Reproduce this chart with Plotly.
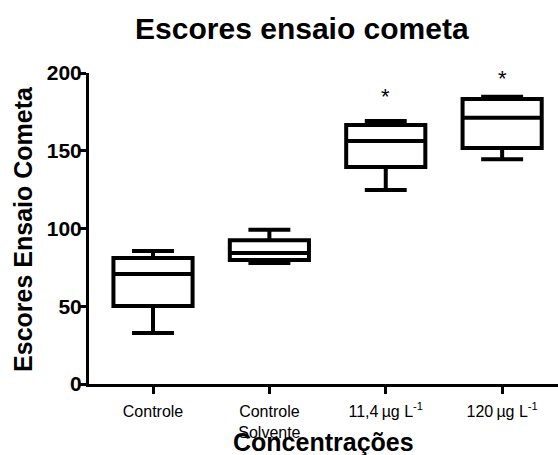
import plotly.graph_objects as go

categories = ["Controle", "Controle<br>Solvente", "11,4\u2009µg L<sup>-1</sup>", "120\u2009µg L<sup>-1</sup>"]
lower_whisker = [32.8, 77.8, 124.8, 144.6]
q1_values = [50.2, 79.7, 139.5, 151.7]
median_values = [70.7, 84.3, 156.3, 171.2]
q3_values = [81.0, 92.4, 166.6, 183.2]
upper_whisker = [85.5, 99.2, 169.2, 184.7]
significance_y = [None, None, 187.5, 199.0]
y_tick_values = [0, 50, 100, 150, 200]

FONT = "Liberation Sans, Arial, sans-serif"

fig = go.Figure()
fig.add_trace(go.Box(
    x=categories,
    q1=q1_values,
    median=median_values,
    q3=q3_values,
    lowerfence=lower_whisker,
    upperfence=upper_whisker,
    width=0.68,
    whiskerwidth=0.53,
    fillcolor="white",
    line=dict(color="black", width=4),
    boxpoints=False,
    showlegend=False,
    hoverinfo="skip",
))

for cat, sy in zip(categories, significance_y):
    if sy is not None:
        fig.add_annotation(x=cat, y=sy, xref="x", yref="y", text="*", showarrow=False,
                           font=dict(family=FONT, size=22, color="black"),
                           yanchor="middle", yshift=-4)

fig.add_annotation(text="Escores Ensaio Cometa", xref="paper", yref="paper",
                   x=-0.142, y=0.5, xanchor="center", yanchor="middle",
                   textangle=-90, showarrow=False,
                   font=dict(family=FONT, size=25, color="black", weight="bold"))
fig.add_annotation(text="Concentrações", xref="paper", yref="paper",
                   x=0.5, y=-0.134, xanchor="center", yanchor="top",
                   showarrow=False,
                   font=dict(family=FONT, size=25, color="black", weight="bold"))

fig.update_layout(
    width=558, height=455,
    margin=dict(l=89, r=0, t=73, b=71),
    paper_bgcolor="white", plot_bgcolor="white",
    title=dict(text="Escores ensaio cometa", x=0.541, xanchor="center",
               y=0.937, yanchor="middle", yref="container",
               font=dict(family=FONT, size=30, color="black", weight="bold")),
    font=dict(family=FONT, color="black"),
)
fig.update_xaxes(
    type="category", range=[-0.55, 3.48], automargin=False,
    showline=True, linecolor="black", linewidth=3,
    ticks="outside", ticklen=7, tickwidth=3, tickcolor="black",
    ticklabelstandoff=4,
    showgrid=False, zeroline=False,
    tickfont=dict(family=FONT, size=16, color="black"),
)
fig.update_yaxes(
    range=[0, 200], tickvals=y_tick_values, automargin=False,
    showline=True, linecolor="black", linewidth=3,
    ticks="outside", ticklen=6, tickwidth=3, tickcolor="black",
    ticklabelstandoff=-6,
    showgrid=False, zeroline=False,
    tickfont=dict(family=FONT, size=21, color="black", weight="bold"),
)

fig.write_html("out.html", config={"displayModeBar": False},
               post_script="document.body.style.margin='0';")
